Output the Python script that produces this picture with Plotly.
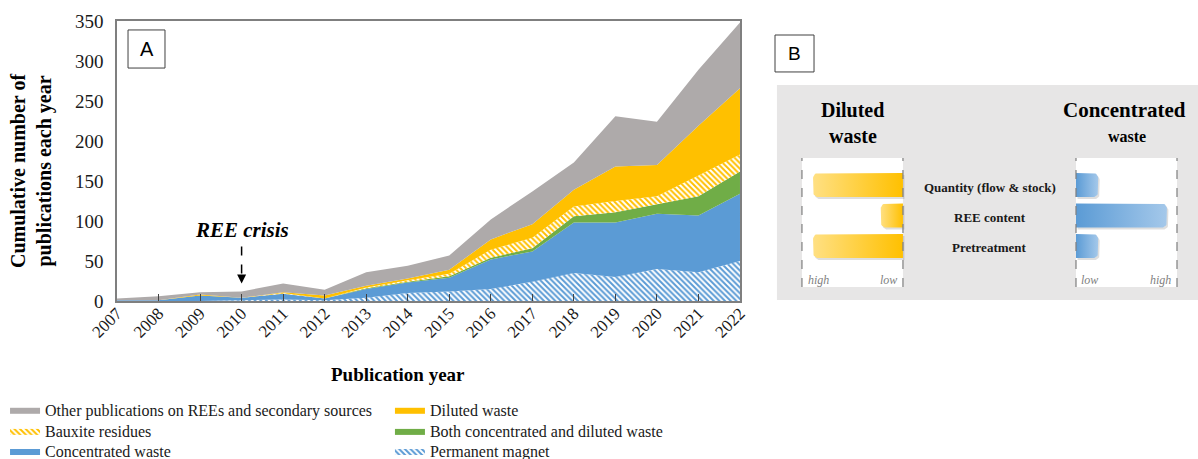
import numpy as np
import plotly.graph_objects as go

# ---- panel A data (stacked, bottom to top) ----
years = list(range(2007, 2023))
permanent_magnet = [0, 0, 0, 1, 2, 1, 4, 10, 12, 15, 24, 35, 30, 40, 36, 50]
concentrated_waste = [1, 1, 7, 3, 7, 2, 11, 13, 17, 37, 38, 63, 68, 69, 71, 84]
both_waste = [0, 0, 0, 0, 0, 0, 1, 1, 2, 2, 4, 8, 13, 12, 24, 28]
bauxite_residues = [0, 0, 0, 0, 1, 0, 1, 2, 3, 10, 13, 12, 14, 10, 26, 21]
diluted_waste = [0, 0, 1, 0, 1, 4, 2, 2, 5, 13, 17, 21, 43, 39, 62, 83]
other_publications = [2, 5, 3, 8, 11, 7, 17, 16, 18, 25, 41, 34, 63, 54, 70, 82]

# ---- panel B data ----
b_rows = ["Quantity (flow & stock)", "REE content", "Pretreatment"]
diluted_level = [0.89, 0.22, 0.89]
concentrated_level = [0.22, 0.90, 0.22]

SERIF = "Liberation Serif, Times New Roman, serif"
SANS = "Liberation Sans, Arial, sans-serif"
GRAY = "#aeaaaa"
YELLOW = "#ffc000"
GREEN = "#70ad47"
BLUE = "#5b9bd5"

fig = go.Figure()

# name, values, colour, hatched, legend id, legend x (container), legend y (container)
layers = [
    ("Permanent magnet", permanent_magnet, BLUE, True, "legend6", 0.3255, 0.017),
    ("Concentrated waste", concentrated_waste, BLUE, False, "legend5", 0.0042, 0.017),
    ("Both concentrated and diluted waste", both_waste, GREEN, False, "legend4", 0.3255, 0.061),
    ("Bauxite residues", bauxite_residues, YELLOW, True, "legend3", 0.0042, 0.061),
    ("Diluted waste", diluted_waste, YELLOW, False, "legend2", 0.3255, 0.107),
    ("Other publications on REEs and secondary sources", other_publications, GRAY, False, "legend", 0.0042, 0.107),
]

legend_layout = {}
for name, vals, color, hatched, leg, lx, ly in layers:
    kw = {}
    if hatched:
        kw["fillcolor"] = "white"
        kw["fillpattern"] = dict(shape="\\", fgcolor=color, bgcolor="white",
                                 size=4, solidity=0.5, fillmode="replace")
    else:
        kw["fillcolor"] = color
    fig.add_trace(go.Scatter(
        x=years, y=vals, name=name, mode="lines", stackgroup="a",
        line=dict(width=0, color=color), legend=leg,
        hoverinfo="x+y+name", **kw
    ))
    legend_layout[leg] = dict(x=lx, y=ly, xref="container", yref="container",
                              xanchor="left", yanchor="middle", orientation="v",
                              font=dict(family=SERIF, size=16, color="#1a1a1a"),
                              bgcolor="rgba(0,0,0,0)", itemwidth=30)


# ---- panel B: rounded gradient bars ----
def rounded_bar(anchor, outer, yc, h=24, r=5):
    d = 1 if outer > anchor else -1
    t = np.linspace(0, np.pi / 2, 8)
    cx = outer - d * r
    top_arc_x = cx + d * r * np.sin(t)
    top_arc_y = yc + h / 2 - r + r * np.cos(t)
    bot_arc_x = cx + d * r * np.cos(t)
    bot_arc_y = yc - h / 2 + r - r * np.sin(t)
    xs = [anchor, *top_arc_x, *bot_arc_x, anchor, anchor]
    ys = [yc + h / 2, *top_arc_y, *bot_arc_y, yc - h / 2, yc + h / 2]
    return xs, ys


annotations = []
BOX_W = 101
row_y = [115 - 30.5 * i for i in range(len(b_rows))]

for i, yc in enumerate(row_y):
    for level, anchor, d, cs in [
        (diluted_level[i], -85, -1, [[0, "#ffe083"], [1, "#ffc000"]]),
        (concentrated_level[i], 88, 1, [[0, "#5b9bd5"], [1, "#a4c8ea"]]),
    ]:
        xs, ys = rounded_bar(anchor, anchor + d * level * BOX_W, yc)
        fig.add_trace(go.Scatter(
            x=[x + 1.5 for x in xs], y=[y - 2 for y in ys], xaxis="x2", yaxis="y2",
            fill="toself", fillcolor="rgba(0,0,0,0.13)", mode="lines",
            line=dict(width=0), showlegend=False, hoverinfo="skip"))
        fig.add_trace(go.Scatter(
            x=xs, y=ys, xaxis="x2", yaxis="y2", fill="toself",
            fillgradient=dict(type="horizontal", colorscale=cs),
            mode="lines", line=dict(width=0), showlegend=False, hoverinfo="skip"))
    annotations.append(dict(x=2, y=yc - 2, xref="x2", yref="y2", text=f"<b>{b_rows[i]}</b>",
                            showarrow=False, font=dict(family=SERIF, size=13, color="#1a1a1a")))

shapes = [
    dict(type="rect", xref="x2 domain", yref="y2 domain", x0=0, x1=1, y0=0, y1=1,
         fillcolor="#e7e6e6", line=dict(width=0), layer="below"),
    dict(type="rect", xref="x2", yref="y2", x0=-186, x1=-85, y0=13, y1=142,
         fillcolor="white", line=dict(width=0), layer="below"),
    dict(type="rect", xref="x2", yref="y2", x0=88, x1=189, y0=13, y1=142,
         fillcolor="white", line=dict(width=0), layer="below"),
]
for xv in [-186, -85, 88, 189]:
    shapes.append(dict(type="line", xref="x2", yref="y2", x0=xv, x1=xv, y0=13, y1=142,
                       line=dict(color="#7f7f7f", width=1.2, dash="dash"), layer="above"))

# panel labels A / B
shapes.append(dict(type="rect", xref="paper", yref="paper", x0=0.0102, x1=0.0444,
                   y0=0.832, y1=0.968, line=dict(color="#404040", width=1), fillcolor="white"))
shapes.append(dict(type="rect", xref="paper", yref="paper", x0=0.6087, x1=0.6448,
                   y0=0.818, y1=0.950, line=dict(color="#404040", width=1), fillcolor="white"))

# REE crisis dashed arrow
shapes.append(dict(type="line", xref="x", yref="y", x0=2010, x1=2010, y0=68, y1=30,
                   line=dict(color="black", width=1.5, dash="dash")))

annotations += [
    dict(x=0.0273, y=0.90, xref="paper", yref="paper", xanchor="center", yanchor="middle",
         text="A", showarrow=False, font=dict(family=SANS, size=20, color="black")),
    dict(x=0.6268, y=0.884, xref="paper", yref="paper", xanchor="center", yanchor="middle",
         text="B", showarrow=False, font=dict(family=SANS, size=19, color="black")),
    dict(x=2010, y=89, xref="x", yref="y", xanchor="center", yanchor="middle",
         text="<b><i>REE crisis</i></b>", showarrow=False,
         font=dict(family=SERIF, size=21, color="black")),
    dict(x=2010, y=22, ax=2010, ay=32, xref="x", yref="y", axref="x", ayref="y", text="",
         showarrow=True, arrowhead=2, arrowsize=1.2, arrowwidth=1.5, arrowcolor="black"),
    dict(x=-0.0796, y=0.464, xref="paper", yref="paper", xanchor="center", yanchor="middle",
         textangle=-90, showarrow=False,
         text="<b>Cumulative number of<br>publications each year</b>",
         font=dict(family=SERIF, size=20, color="black")),
    dict(x=0.26, y=-0.264, xref="paper", yref="paper", xanchor="center", yanchor="middle",
         showarrow=False, text="<b>Publication year</b>",
         font=dict(family=SERIF, size=19, color="black")),
    # panel B headings
    dict(x=-135, y=190, xref="x2", yref="y2", text="<b>Diluted</b>", showarrow=False,
         font=dict(family=SERIF, size=20, color="black")),
    dict(x=-135, y=164, xref="x2", yref="y2", text="<b>waste</b>", showarrow=False,
         font=dict(family=SERIF, size=20, color="black")),
    dict(x=137, y=190, xref="x2", yref="y2", text="<b>Concentrated</b>", showarrow=False,
         font=dict(family=SERIF, size=21, color="black")),
    dict(x=139, y=164, xref="x2", yref="y2", text="<b>waste</b>", showarrow=False,
         font=dict(family=SERIF, size=16, color="black")),
]
for xv, t in [(-169, "high"), (-99, "low"), (102, "low"), (172, "high")]:
    annotations.append(dict(x=xv, y=20, xref="x2", yref="y2", text=f"<i>{t}</i>",
                            showarrow=False, font=dict(family=SERIF, size=12, color="#7f7f7f")))

fig.update_layout(
    width=1198, height=459, autosize=False,
    margin=dict(l=117, r=0, t=21, b=158, autoexpand=False),
    paper_bgcolor="white", plot_bgcolor="white",
    font=dict(family=SERIF, color="black"),
    shapes=shapes, annotations=annotations,
    xaxis=dict(domain=[0, 0.5763], range=[2007, 2022], tickmode="array", tickvals=years,
               ticktext=[str(y) for y in years], tickangle=-45, ticks="inside", ticklen=7,
               tickcolor="#404040", showline=True, linecolor="#7f7f7f", linewidth=1.5,
               mirror=True, showgrid=False, zeroline=False, ticklabelstandoff=-6,
               tickfont=dict(family=SERIF, size=17, color="#1a1a1a")),
    yaxis=dict(domain=[0, 1], range=[0, 350], dtick=50, ticks="", showline=True,
               linecolor="#7f7f7f", linewidth=1.5, mirror=True, showgrid=False,
               zeroline=False, ticklabelstandoff=8,
               tickfont=dict(family=SERIF, size=19, color="#1a1a1a")),
    xaxis2=dict(domain=[0.6105, 1], range=[-211, 210], visible=False, anchor="y2"),
    yaxis2=dict(domain=[0.00357, 0.7714], range=[0, 215], visible=False, anchor="x2"),
    **legend_layout,
)

# the page's default body margin would offset the figure by 8px
fig.write_html("out.html", config={"displayModeBar": False},
               post_script="document.body.style.margin='0';")
